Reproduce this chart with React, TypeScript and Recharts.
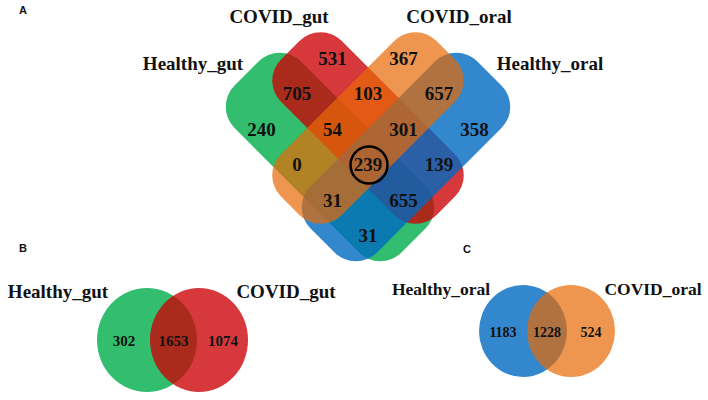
import { Scatter, ScatterChart, XAxis, YAxis } from "recharts"

// panel A: four sets
const fourSetNames = ["Healthy_gut", "COVID_gut", "COVID_oral", "Healthy_oral"]
const fourSetColors = ["#0eb355", "#cc0005", "#e76905", "#0069c0"]
const fourSetAlpha = [0.85, 0.78, 0.7, 0.8]
// region counts, read row by row from the top of the diagram
const fourSetCounts = [531, 367, 705, 103, 657, 240, 54, 301, 358, 0, 239, 139, 31, 655, 31]

// panel B and C: two sets each
const gutNames = ["Healthy_gut", "COVID_gut"]
const gutCounts = [302, 1653, 1074]
const oralNames = ["Healthy_oral", "COVID_oral"]
const oralCounts = [1183, 1228, 524]

const W = 708
const H = 400

// layout (chart units == pixels)
const MID_X = 368
const MID_Y = 165
const STEP = 35.5
const fourSetCells = [
  [-1, -3], [1, -3],
  [-2, -2], [0, -2], [2, -2],
  [-3, -1], [-1, -1], [1, -1], [3, -1],
  [-2, 0], [0, 0], [2, 0],
  [-1, 1], [1, 1],
  [0, 2],
]
const bandLayout = [
  { cx: 330, cy: 157, rot: 45, len: 236, wid: 94 },
  { cx: 368, cy: 128, rot: 45, len: 220, wid: 86 },
  { cx: 368, cy: 128, rot: -45, len: 220, wid: 86 },
  { cx: 406, cy: 157, rot: -45, len: 236, wid: 94 },
]
const drawOrder = [0, 1, 3, 2]
const nameLayout = [
  { x: 193, y: 70 },
  { x: 279, y: 23 },
  { x: 459, y: 23 },
  { x: 550, y: 70 },
]

const bands = drawOrder.map((i) => ({
  x: bandLayout[i].cx,
  y: bandLayout[i].cy,
  ...bandLayout[i],
  color: fourSetColors[i],
  alpha: fourSetAlpha[i],
}))

const fourSetLabels = fourSetCounts.map((v, i) => ({
  x: MID_X + fourSetCells[i][0] * STEP,
  y: MID_Y + fourSetCells[i][1] * STEP,
  text: String(v),
  size: 19,
  ring: i === 10,
}))

const circles = [
  { x: 147, y: 340, rx: 50, ry: 52, color: fourSetColors[0], alpha: fourSetAlpha[0] },
  { x: 199, y: 340, rx: 49, ry: 52, color: fourSetColors[1], alpha: fourSetAlpha[1] },
  { x: 523, y: 331, rx: 44, ry: 46, color: fourSetColors[3], alpha: fourSetAlpha[3] },
  { x: 571, y: 331, rx: 44, ry: 46, color: fourSetColors[2], alpha: fourSetAlpha[2] },
]

const twoSetLabels = [
  ...gutCounts.map((v, i) => ({ x: 124 + i * 49.5, y: 341, text: String(v), size: 15, ring: false })),
  ...oralCounts.map((v, i) => ({ x: 503 + i * 44, y: 332, text: String(v), size: 14, ring: false })),
]

const setTitles = [
  ...fourSetNames.map((n, i) => ({ ...nameLayout[i], text: n, size: 19 })),
  { x: 58, y: 298, text: gutNames[0], size: 19 },
  { x: 286, y: 298, text: gutNames[1], size: 19 },
  { x: 441, y: 295, text: oralNames[0], size: 17.5 },
  { x: 653, y: 295, text: oralNames[1], size: 17.5 },
]

const panelTags = [
  { x: 23, y: 14, text: "A" },
  { x: 23, y: 252, text: "B" },
  { x: 467, y: 253, text: "C" },
]

const serif = "'Liberation Serif', 'Times New Roman', serif"

const Band = (props: any) => {
  const { cx, cy, payload } = props
  const { len, wid, rot, color, alpha } = payload
  return (
    <rect
      x={cx - len / 2}
      y={cy - wid / 2}
      width={len}
      height={wid}
      rx={30}
      ry={30}
      fill={color}
      fillOpacity={alpha}
      transform={`rotate(${rot} ${cx} ${cy})`}
    />
  )
}

const Blob = (props: any) => {
  const { cx, cy, payload } = props
  return <ellipse cx={cx} cy={cy} rx={payload.rx} ry={payload.ry} fill={payload.color} fillOpacity={payload.alpha} />
}

const Count = (props: any) => {
  const { cx, cy, payload } = props
  return (
    <g>
      {payload.ring && <circle cx={cx + 1} cy={cy} r={18.5} fill="none" stroke="#000" strokeWidth={2.5} />}
      <text
        x={cx}
        y={cy}
        dy="0.34em"
        textAnchor="middle"
        fontFamily={serif}
        fontWeight="bold"
        fontSize={payload.size}
        fill="#111"
      >
        {payload.text}
      </text>
    </g>
  )
}

const Title = (props: any) => {
  const { cx, cy, payload } = props
  return (
    <text x={cx} y={cy} textAnchor="middle" fontFamily={serif} fontWeight="bold" fontSize={payload.size} fill="#111">
      {payload.text}
    </text>
  )
}

const Tag = (props: any) => {
  const { cx, cy, payload } = props
  return (
    <text x={cx} y={cy} textAnchor="middle" fontFamily="'Liberation Sans', Arial, sans-serif" fontWeight="bold" fontSize={11} fill="#111">
      {payload.text}
    </text>
  )
}

export default function App() {
  return (
    <div style={{ position: "absolute", left: 0, top: 0, width: W, height: H, background: "#fff" }}>
      <ScatterChart width={W} height={H} margin={{ top: 0, right: 0, bottom: 0, left: 0 }}>
        <XAxis type="number" dataKey="x" domain={[0, W]} hide />
        <YAxis type="number" dataKey="y" domain={[0, H]} reversed hide />
        <Scatter data={bands} shape={Band} isAnimationActive={false} />
        <Scatter data={circles} shape={Blob} isAnimationActive={false} />
        <Scatter data={fourSetLabels} shape={Count} isAnimationActive={false} />
        <Scatter data={twoSetLabels} shape={Count} isAnimationActive={false} />
        <Scatter data={setTitles} shape={Title} isAnimationActive={false} />
        <Scatter data={panelTags} shape={Tag} isAnimationActive={false} />
      </ScatterChart>
    </div>
  )
}
